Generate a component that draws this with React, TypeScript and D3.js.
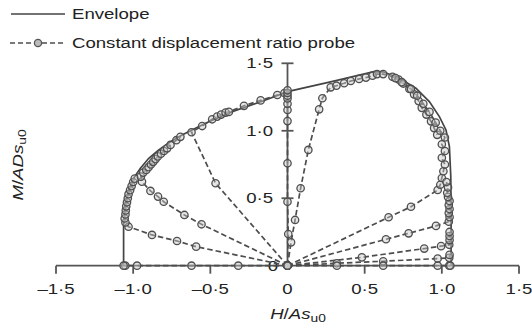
import React from "react";
import * as d3 from "d3";

type P = [number, number];

// Envelope (H/As_u0, M/ADs_u0)
const envelopeH = [-1.062, -1.062, -1.058, -1.051, -1.029, -0.997, -0.953, -0.899, -0.834, -0.758, -0.683, -0.596, -0.51, -0.358, -0.142, 0, 0.3, 0.56, 0.62, 0.724, 0.832, 0.919, 0.984, 1.027, 1.049, 1.058, 1.06, 1.06];
const envelopeM = [0, 0.3, 0.338, 0.463, 0.561, 0.648, 0.722, 0.796, 0.858, 0.919, 0.969, 1.019, 1.067, 1.142, 1.228, 1.29, 1.368, 1.438, 1.437, 1.389, 1.315, 1.216, 1.105, 1.006, 0.882, 0.66, 0.3, 0];

// Constant displacement ratio probes
const probeA: P[] = [[0, 0], [-0.319, 0], [-0.622, 0], [-0.975, 0], [-1.051, 0], [-1.062, 0]];
const probeB: P[] = [[0, 0], [-0.592, 0.141], [-0.716, 0.183], [-0.878, 0.228], [-1.03, 0.289], [-1.05, 0.32], [-1.055, 0.35], [-1.05, 0.38], [-1.048, 0.41], [-1.045, 0.44], [-1.04, 0.47], [-1.035, 0.5], [-1.03, 0.53], [-1.02, 0.56], [-1.01, 0.59], [-1.0, 0.62], [-0.99, 0.645]];
const probeC: P[] = [[0, 0], [-0.557, 0.307], [-0.668, 0.376], [-0.802, 0.474], [-0.839, 0.512], [-0.888, 0.554], [-0.943, 0.623], [-0.95, 0.66], [-0.935, 0.69], [-0.915, 0.71], [-0.9, 0.73], [-0.885, 0.75], [-0.87, 0.77], [-0.855, 0.79], [-0.84, 0.81], [-0.82, 0.83], [-0.8, 0.85], [-0.78, 0.87], [-0.758, 0.895], [-0.72, 0.93], [-0.694, 0.955]];
const probeD: P[] = [[0, 0], [-0.466, 0.611], [-0.622, 0.989], [-0.553, 1.035], [-0.488, 1.085], [-0.456, 1.105], [-0.43, 1.12], [-0.401, 1.135], [-0.38, 1.14], [-0.282, 1.185], [-0.174, 1.225], [-0.066, 1.265], [-0.02, 1.28]];
const probeE: P[] = [[0, 0], [0.005, 0.235], [0, 0.474], [0, 0.759], [0, 1.072], [0, 1.154], [0, 1.2], [0, 1.24], [0, 1.26], [0, 1.28], [0, 1.3]];
const probeF: P[] = [[0, 0], [0.023, 0.173], [0.049, 0.339], [0.085, 0.574], [0.135, 0.858], [0.205, 1.159], [0.226, 1.241], [0.28, 1.322], [0.317, 1.334], [0.367, 1.352], [0.41, 1.369], [0.464, 1.384], [0.508, 1.394], [0.551, 1.408], [0.58, 1.42], [0.62, 1.42], [0.68, 1.4], [0.72, 1.38], [0.75, 1.35], [0.79, 1.31], [0.82, 1.27], [0.85, 1.22], [0.87, 1.17], [0.9, 1.12], [0.93, 1.07], [0.95, 1.02], [0.97, 0.97]];
const probeG: P[] = [[0, 0], [0.655, 0.359], [0.8, 0.437], [0.973, 0.561], [0.99, 0.6], [1.0, 0.65], [1.01, 0.7], [1.02, 0.75], [1.0, 0.8], [1.02, 0.85], [1.0, 0.9], [1.02, 0.95], [0.99, 1.0], [0.96, 1.06], [0.92, 1.14], [0.88, 1.2], [0.84, 1.26], [0.8, 1.31], [0.74, 1.36], [0.7, 1.39]];
const probeH: P[] = [[0, 0], [0.638, 0.196], [0.785, 0.24], [0.962, 0.295], [1.045, 0.326], [1.05, 0.36], [1.045, 0.39], [1.05, 0.42], [1.045, 0.45], [1.05, 0.48], [1.04, 0.51], [1.035, 0.54], [1.04, 0.58], [1.03, 0.62]];
const probeI: P[] = [[0, 0], [0.482, 0.062], [0.886, 0.127], [0.995, 0.145], [1.048, 0.155], [1.05, 0.19], [1.05, 0.22], [1.05, 0.25]];
const probeJ: P[] = [[0, 0], [0.32, 0.018], [0.62, 0.033], [0.973, 0.053], [1.048, 0.058], [1.05, 0.08]];
const probeK: P[] = [[0, 0], [0.32, 0], [0.62, 0], [0.973, 0], [1.048, 0], [1.055, 0]];

const probes: P[][] = [probeA, probeB, probeC, probeD, probeE, probeF, probeG, probeH, probeI, probeJ, probeK];

const xTicks = [-1.5, -1.0, -0.5, 0, 0.5, 1.0, 1.5];
const yTicks = [0, 0.5, 1.0, 1.5];
const legendLabels = ["Envelope", "Constant displacement ratio probe"];

const fmt = (v: number) => {
  if (v === 0) return "0";
  const s = Math.abs(v).toFixed(1).replace(".", "\u00B7");
  return (v < 0 ? "\u2013" : "") + s;
};

const SX = 1.2;
const FS = 15.5;

function T(props: { x: number; y: number; anchor?: string; rotate?: number; children: React.ReactNode }) {
  const { x, y, anchor = "start", rotate = 0, children } = props;
  return (
    <text
      transform={`translate(${x},${y}) rotate(${rotate}) scale(${SX},1)`}
      fontSize={FS}
      textAnchor={anchor}
      dominantBaseline="central"
      fill="#222"
    >
      {children}
    </text>
  );
}

export default function App() {
  const W = 532, H = 335;
  const x = d3.scaleLinear().domain([-1.5, 1.5]).range([56, 519]);
  const y = d3.scaleLinear().domain([0, 1.5]).range([265.7, 63.3]);
  const axisColor = "#555";
  const lineColor = "#444";
  const probeColor = "#4d4d4d";
  const font = "Arial, 'Liberation Sans', sans-serif";

  const envPts: P[] = envelopeH.map((h, i) => [h, envelopeM[i]]);
  const line = d3.line<P>().x((d) => x(d[0])).y((d) => y(d[1]));

  return (
    <svg width={W} height={H} style={{ position: "absolute", left: 0, top: 0 }} fontFamily={font}>
      <rect width={W} height={H} fill="#fff" />
      {/* Legend */}
      <line x1={11} x2={65} y1={14} y2={14} stroke={lineColor} strokeWidth={1.5} />
      <T x={72} y={14}>{legendLabels[0]}</T>
      <line x1={10} x2={65} y1={43} y2={43} stroke={probeColor} strokeWidth={1.7} strokeDasharray="5,3" />
      <circle cx={38} cy={43} r={3.6} fill="#bbb" stroke="#555" strokeWidth={1.3} />
      <T x={72} y={43}>{legendLabels[1]}</T>

      {/* Axes */}
      <line x1={x(-1.5)} x2={x(1.5)} y1={y(0)} y2={y(0)} stroke={axisColor} strokeWidth={1.8} />
      {xTicks.filter((t) => t !== 0).map((t) => (
        <line key={"xt" + t} x1={x(t)} x2={x(t)} y1={y(0)} y2={y(0) + 8} stroke={axisColor} strokeWidth={1.8} />
      ))}
      <line x1={x(0)} x2={x(0)} y1={y(0)} y2={y(1.5)} stroke={axisColor} strokeWidth={1.8} />
      {yTicks.filter((t) => t !== 0).map((t) => (
        <line key={"yt" + t} x1={x(0) - 6} x2={x(0) + 6} y1={y(t)} y2={y(t)} stroke={axisColor} strokeWidth={1.8} />
      ))}
      {xTicks.map((t) => (
        <T key={"xl" + t} x={x(t)} y={289} anchor="middle">{fmt(t)}</T>
      ))}
      {yTicks.map((t) => (
        <T key={"yl" + t} x={t === 0 ? 278 : 273} y={y(t)} anchor="end">{fmt(t)}</T>
      ))}

      {/* Axis titles */}
      <text transform={`translate(298,314) scale(${SX},1)`} fontSize={FS} textAnchor="middle" dominantBaseline="central" fill="#222">
        <tspan fontStyle="italic">H</tspan><tspan>/</tspan><tspan fontStyle="italic">As</tspan>
        <tspan fontSize={11.5} dy={4}>u0</tspan>
      </text>
      <text transform={`translate(18,165) rotate(-90) scale(${SX},1)`} fontSize={FS} textAnchor="middle" dominantBaseline="central" fill="#222">
        <tspan fontStyle="italic">M</tspan><tspan>/</tspan><tspan fontStyle="italic">ADs</tspan>
        <tspan fontSize={11.5} dy={4}>u0</tspan>
      </text>

      {/* Envelope */}
      <path d={line(envPts) || ""} fill="none" stroke={lineColor} strokeWidth={1.7} />

      {/* Probes */}
      {probes.map((p, i) => (
        <path key={"p" + i} d={line(p) || ""} fill="none" stroke={probeColor} strokeWidth={1.7} strokeDasharray="5.5,3" />
      ))}
      {probes.map((p, i) =>
        p.map((d, j) => (
          <circle key={"c" + i + "-" + j} cx={x(d[0])} cy={y(d[1])} r={3.7} fill="#c8c8c8" fillOpacity={0.45} stroke="#4f4f4f" strokeWidth={1.3} />
        ))
      )}
    </svg>
  );
}
